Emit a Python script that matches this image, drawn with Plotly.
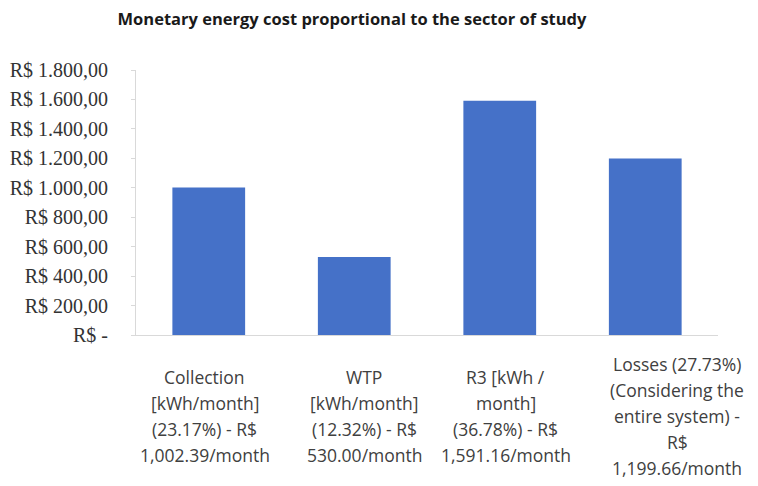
import plotly.graph_objects as go

# ---- data ----
categories = ["Collection", "WTP", "R3", "Losses"]
label_lines = [
    ["Collection", "[kWh/month]", "(23.17%) - R$", "1,002.39/month"],
    ["WTP", "[kWh/month]", "(12.32%) - R$", "530.00/month"],
    ["R3 [kWh /", "month]", "(36.78%) - R$", "1,591.16/month"],
    ["Losses (27.73%)", "(Considering the", "entire system) -", "R$", "1,199.66/month"],
]
values = [1002.39, 530.00, 1591.16, 1199.66]
tick_vals = [0, 200, 400, 600, 800, 1000, 1200, 1400, 1600, 1800]
tick_text = ["R$ -", "R$ 200,00", "R$ 400,00", "R$ 600,00", "R$ 800,00",
             "R$ 1.000,00", "R$ 1.200,00", "R$ 1.400,00", "R$ 1.600,00", "R$ 1.800,00"]
title_text = "Monetary energy cost proportional to the sector of study"

# ---- style ----
label_xshift = [-4, 10, 6, 32]
line_gap = 26
label_center_offset = 81

fig = go.Figure()
fig.add_trace(go.Bar(
    x=categories, y=values,
    marker=dict(color="#4571C8", line=dict(width=0)),
    width=0.5,
))

annotations = []
for i, cat in enumerate(categories):
    lines = label_lines[i]
    n = len(lines)
    for j, line in enumerate(lines):
        annotations.append(dict(
            x=cat, xref="x", y=0, yref="paper",
            text=line, showarrow=False,
            xanchor="center", yanchor="middle",
            xshift=label_xshift[i],
            yshift=-(label_center_offset + (j - (n - 1) / 2) * line_gap),
            font=dict(family="Open Sans", size=17.5, color="#404040"),
        ))

fig.update_layout(
    width=758, height=486,
    margin=dict(l=128, r=48, t=62, b=159, autoexpand=False),
    paper_bgcolor="white", plot_bgcolor="white",
    showlegend=False,
    title=dict(text="<b>" + title_text + "</b>", x=344 / 758, xref="container", xanchor="center",
               y=1 - 11 / 486, yref="container", yanchor="middle",
               font=dict(family="Open Sans", size=16.5, color="#1a1a1a")),
    annotations=annotations,
    bargap=0.5,
)
fig.update_xaxes(range=[-0.5, len(categories) - 0.5], autorange=False, automargin=False,
                 showticklabels=False, showline=True, linecolor="#D9D9D9", linewidth=1,
                 ticks="", showgrid=False, zeroline=False)
fig.update_yaxes(range=[0, 1800], autorange=False, automargin=False,
                 tickvals=tick_vals, ticktext=tick_text,
                 showline=True, linecolor="#D9D9D9", linewidth=1,
                 ticks="outside", ticklen=4, tickcolor="#D9D9D9",
                 ticklabelstandoff=19,
                 tickfont=dict(family="Liberation Serif", size=20, color="#333333"),
                 showgrid=False, zeroline=False)

fig.write_html("out.html")
